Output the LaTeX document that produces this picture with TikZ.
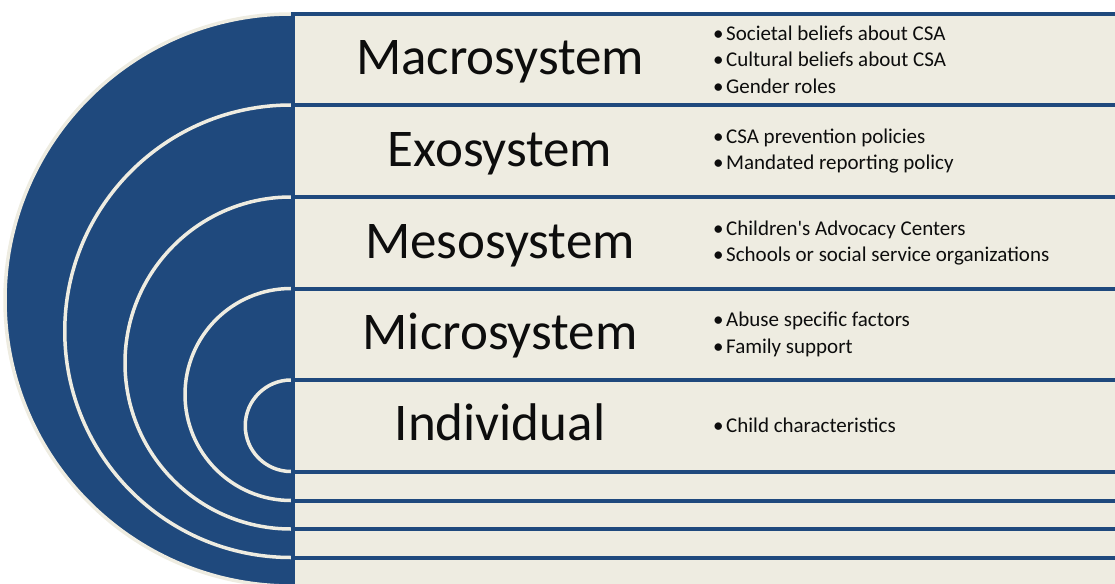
\documentclass[tikz,border=0pt]{standalone}
\usepackage{fontspec}
\setmainfont{Carlito}
\usepackage{tikz}

\definecolor{navy}{HTML}{1F497D}
\definecolor{paper}{HTML}{EEECE1}
\definecolor{ink}{HTML}{0D0D0D}

% half disc with a light rim, #1 = centre (y), #2 = radius
\newcommand\halfdisc[2]{%
  \fill [navy] (291, #1-#2) arc [start angle=270, end angle=90, radius=#2] -- cycle;
  \draw [paper, line width=3.5] (291, #1-#2) arc [start angle=270, end angle=90, radius=#2];}
% one layer band, #1 = top, #2 = bottom
\newcommand\band[2]{\filldraw [fill=paper, draw=navy, line width=4] (293, #1) rectangle (1135, #2);}
% bullet in front of a fact
\newcommand\pt{•\kern2.5pt}

\tikzset{
  level/.style={anchor=base, font=\fontsize{53}{60}\selectfont, text=ink, inner sep=0},
  facts/.style={anchor=west, align=left, inner sep=0, text=ink,
    font=\fontsize{21}{26.5}\selectfont},
}

\begin{document}
\begin{tikzpicture}[x=1pt, y=-1pt]
    \useasboundingbox (0, 0) rectangle (1115, 583);
    \clip (0, 0) rectangle (1115, 583);

    \halfdisc{300}{286}
    \halfdisc{331.25}{226.25}
    \halfdisc{363}{166}
    \halfdisc{394.5}{106}
    \halfdisc{425.75}{45.75}

    \band{14}{586}
    \band{105}{557.5}
    \band{197}{529}
    \band{288.5}{500.5}
    \band{380}{471.5}

    \node [level] (macro) at (500, 74.5) {Macrosystem};
    \node [level] (exo) at (500, 166) {Exosystem};
    \node [level] (meso) at (500, 258) {Mesosystem};
    \node [level] (micro) at (500, 349.5) {Microsystem};
    \node [level] (indiv) at (500, 440.75) {Individual};

    \node [facts] (macrofacts) at (713, 59.5)
      {\pt Societal beliefs about CSA\\\pt Cultural beliefs about CSA\\\pt Gender roles};
    \node [facts] (exofacts) at (713, 151)
      {\pt CSA prevention policies\\\pt Mandated reporting policy};
    \node [facts] (mesofacts) at (713, 243)
      {\pt Children\textquotesingle s Advocacy Centers\\\pt Schools or social service organizations};
    \node [facts] (microfacts) at (713, 334.5)
      {\pt Abuse specific factors\\\pt Family support};
    \node [facts] (indivfacts) at (713, 425.75)
      {\pt Child characteristics};
\end{tikzpicture}
\end{document}
